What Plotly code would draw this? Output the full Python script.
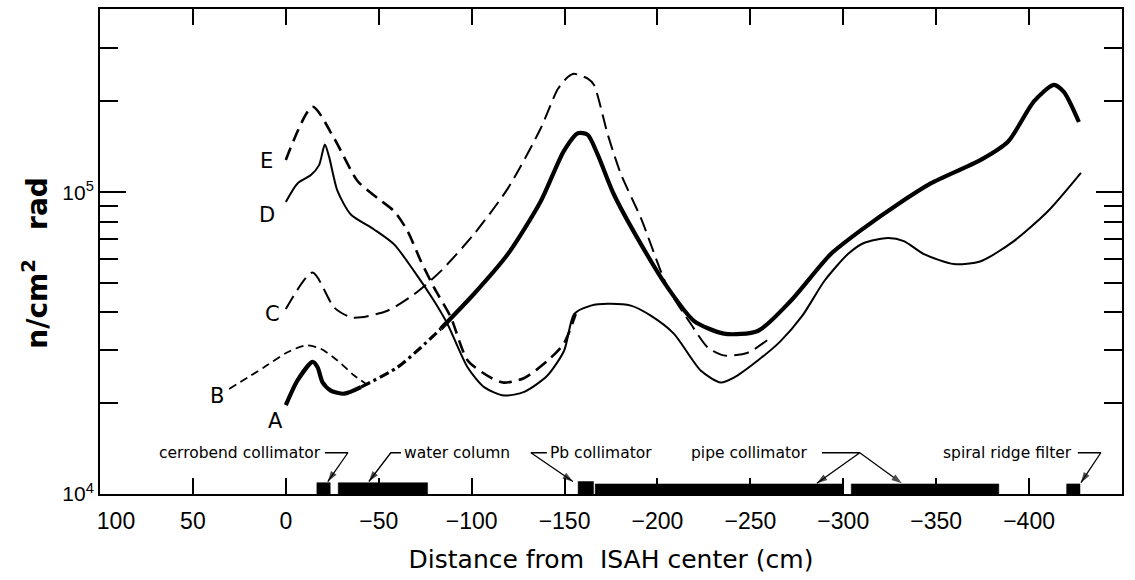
import math
import plotly.graph_objects as go

# ---------------- data ----------------
# Curve A (thick solid; dash-dot where it joins B)
a_x = [0, -6.3, -14.4, -17.1, -19.7, -24.2, -31.4, -40.4, -60.1, -72.7, -83.4,
       -101.2, -119.5, -137.2, -149.6, -157.2, -162.5, -167.9, -176.5, -191.1,
       -205.6, -219.6, -235.7, -254, -271.8, -293.3, -311.1, -329.4, -347.1,
       -374, -388.6, -402.6, -413.3, -418.7, -426.8]
a_y = [1.97e4, 2.38e4, 2.74e4, 2.63e4, 2.35e4, 2.20e4, 2.15e4, 2.26e4, 2.63e4, 3.06e4, 3.53e4,
       4.60e4, 6.24e4, 9.34e4, 1.37e5, 1.57e5, 1.55e5, 1.33e5, 9.85e4, 6.73e4,
       4.82e4, 3.75e4, 3.40e4, 3.47e4, 4.37e4, 6.24e4, 7.61e4, 9.13e4, 1.07e5,
       1.28e5, 1.47e5, 2.00e5, 2.27e5, 2.15e5, 1.71e5]

# Curve B (short dashes)
b_x = [30.5, 11.7, -0.9, -10.8, -18.8, -27.8, -36.8, -43]
b_y = [2.23e4, 2.63e4, 2.95e4, 3.11e4, 3.03e4, 2.77e4, 2.47e4, 2.32e4]

# Curve C (dashed)
c_x = [0, -14.4, -26, -35, -40.4, -54.7, -69, -83.4, -101.2, -119.5, -137.2, -146.4,
       -151.8, -155, -162.5, -165.8, -173.3, -180.3, -191.1, -205.6, -218, -227.1,
       -235.7, -248.6, -261]
c_y = [4.10e4, 5.42e4, 4.15e4, 3.85e4, 3.85e4, 4.05e4, 4.59e4, 5.48e4, 7.26e4, 1.03e5, 1.63e5, 2.20e5,
       2.41e5, 2.47e5, 2.38e5, 2.27e5, 1.55e5, 1.15e5, 8.21e4, 4.82e4, 3.66e4, 3.06e4,
       2.88e4, 2.94e4, 3.30e4]

# Curve D (thin solid)
d_x = [0, -6.3, -13.5, -17.9, -21, -23.3, -27.8, -35, -47.5, -58.3, -69, -79.8, -87,
       -97.8, -106.7, -117.5, -128.3, -140.8, -149.8, -155.2, -164.2, -173.3, -185.7,
       -196.4, -208.8, -223.4, -234.1, -241.1, -254, -266, -278, -290, -302.5, -311.1,
       -324, -332.6, -343.4, -359.5, -374, -391.8, -410.1, -427.9]
d_y = [9.29e4, 1.07e5, 1.14e5, 1.23e5, 1.44e5, 1.31e5, 1.01e5, 8.44e4, 7.53e4, 6.72e4, 5.48e4, 4.36e4, 3.66e4,
       2.63e4, 2.26e4, 2.12e4, 2.18e4, 2.47e4, 2.99e4, 3.95e4, 4.21e4, 4.27e4, 4.21e4,
       3.90e4, 3.40e4, 2.56e4, 2.34e4, 2.43e4, 2.77e4, 3.20e4, 3.90e4, 5.10e4, 6.24e4, 6.79e4,
       7.05e4, 6.89e4, 6.24e4, 5.78e4, 5.91e4, 6.89e4, 8.65e4, 1.16e5]

# Curve E (long dashes)
e_x = [0, -14.4, -26, -38.6, -49.3, -58.3, -65.5, -72.7, -79.8, -88.8, -97.9, -110.3,
       -117.3, -128.1, -141, -149.6, -156]
e_y = [1.28e5, 1.92e5, 1.51e5, 1.09e5, 9.57e4, 8.65e4, 7.44e4, 5.91e4, 4.83e4, 3.85e4, 2.77e4, 2.43e4,
       2.34e4, 2.42e4, 2.77e4, 3.15e4, 3.95e4]

# Beam-line components drawn along the bottom axis
comp_names = ["cerrobend collimator", "water column", "Pb collimator",
              "pipe collimator", "pipe collimator", "spiral ridge filter"]
comp_start = [-16.7, -28.2, -157.3, -166.5, -304.3, -420.2]
comp_end = [-23.9, -76.3, -165.6, -299.7, -383.7, -427.4]
comp_top = [1.09e4, 1.09e4, 1.10e4, 1.08e4, 1.08e4, 1.08e4]

x_ticks = [100, 50, 0, -50, -100, -150, -200, -250, -300, -350, -400, -450]
x_tick_text = ["&nbsp;&nbsp;&nbsp;&nbsp;&nbsp;100", "50", "0", "\u221250", "\u2212100", "\u2212150",
               "\u2212200", "\u2212250", "\u2212300", "\u2212350", "\u2212400",
               "\u2212450&nbsp;&nbsp;&nbsp;&nbsp;&nbsp;&nbsp;&nbsp;&nbsp;"]
y_major = [1e4, 1e5]
y_major_text = ["10<sup>4</sup>", "10<sup>5</sup>"]
y_minor = [2e4, 3e4, 4e4, 5e4, 6e4, 7e4, 8e4, 9e4, 2e5, 3e5]

TICKFONT = "Liberation Sans"
FONT = "DejaVu Sans"
fig = go.Figure()


def add_curve(x, y, width, dash):
    fig.add_trace(go.Scatter(
        x=x, y=y, mode="lines", showlegend=False, hoverinfo="skip",
        line=dict(color="black", width=width, dash=dash, shape="spline", smoothing=0.7)))


# A: solid / dash-dot / solid
add_curve(a_x[:8], a_y[:8], 4.2, "solid")
add_curve(a_x[7:11], a_y[7:11], 3.2, "10px,4px,3px,4px")
add_curve(a_x[10:], a_y[10:], 4.2, "solid")
add_curve(b_x, b_y, 1.8, "8px,5px")
add_curve(c_x, c_y, 2.0, "15px,7px")
add_curve(d_x, d_y, 2.0, "solid")
add_curve(e_x, e_y, 2.6, "13px,7px")

# component blocks
for s, e, t in zip(comp_start, comp_end, comp_top):
    fig.add_trace(go.Scatter(
        x=[s, e, e, s, s], y=[1e4, 1e4, t, t, 1e4], mode="lines", fill="toself",
        fillcolor="black", line=dict(color="black", width=0.5),
        showlegend=False, hoverinfo="skip"))

# leader lines ending in arrowheads (label -> component)
LV = 1.37e4
pointers = [
    ([-21.0, -33.4, -22.6], [LV, LV, 1.10e4]),
    ([-62.0, -56.5, -44.7], [LV, LV, 1.10e4]),
    ([-140.5, -131.9, -154.5], [LV, LV, 1.10e4]),
    ([-288.5, -308.9, -285.8], [LV, LV, 1.085e4]),
    ([-308.9, -331.5], [LV, 1.085e4]),
    ([-426.2, -438.6, -427.9], [LV, LV, 1.09e4]),
]
for px, py in pointers:
    sizes = [0] * (len(px) - 1) + [11]
    fig.add_trace(go.Scatter(
        x=px, y=py, mode="lines+markers", showlegend=False, hoverinfo="skip",
        line=dict(color="black", width=1.3),
        marker=dict(symbol="arrow", size=sizes, angleref="previous", color="black",
                    line=dict(width=0))))

LY = math.log10(LV)
ann = []
# curve letters
for txt, lx, ly in [("E", 10.4, 1.27e5), ("D", 9.9, 8.44e4), ("C", 7.2, 3.95e4),
                    ("B", 36.8, 2.12e4), ("A", 5.4, 1.75e4)]:
    ann.append(dict(x=lx, y=math.log10(ly), xref="x", yref="y", text=txt, showarrow=False,
                    font=dict(family=FONT, size=21, color="black")))

lab_font = dict(family=FONT, size=15.5, color="black")
# component labels
ann.append(dict(x=-19.9, y=LY, xref="x", yref="y", text=comp_names[0], xanchor="right",
                showarrow=False, font=lab_font))
ann.append(dict(x=-62.5, y=LY, xref="x", yref="y", text=comp_names[1], xanchor="left",
                showarrow=False, font=lab_font))
ann.append(dict(x=-141.0, y=LY, xref="x", yref="y", text=comp_names[2], xanchor="left",
                showarrow=False, font=lab_font))
ann.append(dict(x=-217.0, y=LY, xref="x", yref="y", text=comp_names[3], xanchor="left",
                showarrow=False, font=lab_font))
ann.append(dict(x=-424.0, y=LY, xref="x", yref="y", text=comp_names[5], xanchor="right",
                showarrow=False, font=lab_font))

# y-axis title
ann.append(dict(x=-0.063, y=0.476, xref="paper", yref="paper", textangle=-90,
                text="<b>n/cm<sup>2</sup>&nbsp;&nbsp;&nbsp;rad</b>", showarrow=False,
                xanchor="center", yanchor="middle",
                font=dict(family=FONT, size=28, color="black")))

fig.update_layout(
    width=1135, height=580,
    margin=dict(l=100, r=13, t=7, b=86),
    paper_bgcolor="white", plot_bgcolor="white",
    font=dict(family=FONT, color="black"),
    annotations=ann,
    xaxis=dict(
        range=[100, -450], tickmode="array", tickvals=x_ticks, ticktext=x_tick_text,
        ticks="inside", ticklen=16, tickwidth=2, tickcolor="black",
        showline=True, linewidth=2, linecolor="black", mirror="allticks",
        showgrid=False, zeroline=False, ticklabelstandoff=5,
        tickfont=dict(family=TICKFONT, size=23, color="black"),
        title=dict(text="Distance from&nbsp;&nbsp;ISAH center (cm)", standoff=18,
                   font=dict(family=FONT, size=25, color="black")),
    ),
    yaxis=dict(
        type="log", range=[4, math.log10(4.05e5)], tickmode="array",
        tickvals=y_major, ticktext=y_major_text,
        ticks="inside", ticklen=26, tickwidth=2, tickcolor="black",
        minor=dict(tickmode="array", tickvals=y_minor, ticks="inside", ticklen=18,
                   tickwidth=2, tickcolor="black", showgrid=False),
        showline=True, linewidth=2, linecolor="black", mirror="allticks",
        showgrid=False, zeroline=False,
        tickfont=dict(family=TICKFONT, size=21, color="black"),
    ),
)

fig.write_html("out.html")
